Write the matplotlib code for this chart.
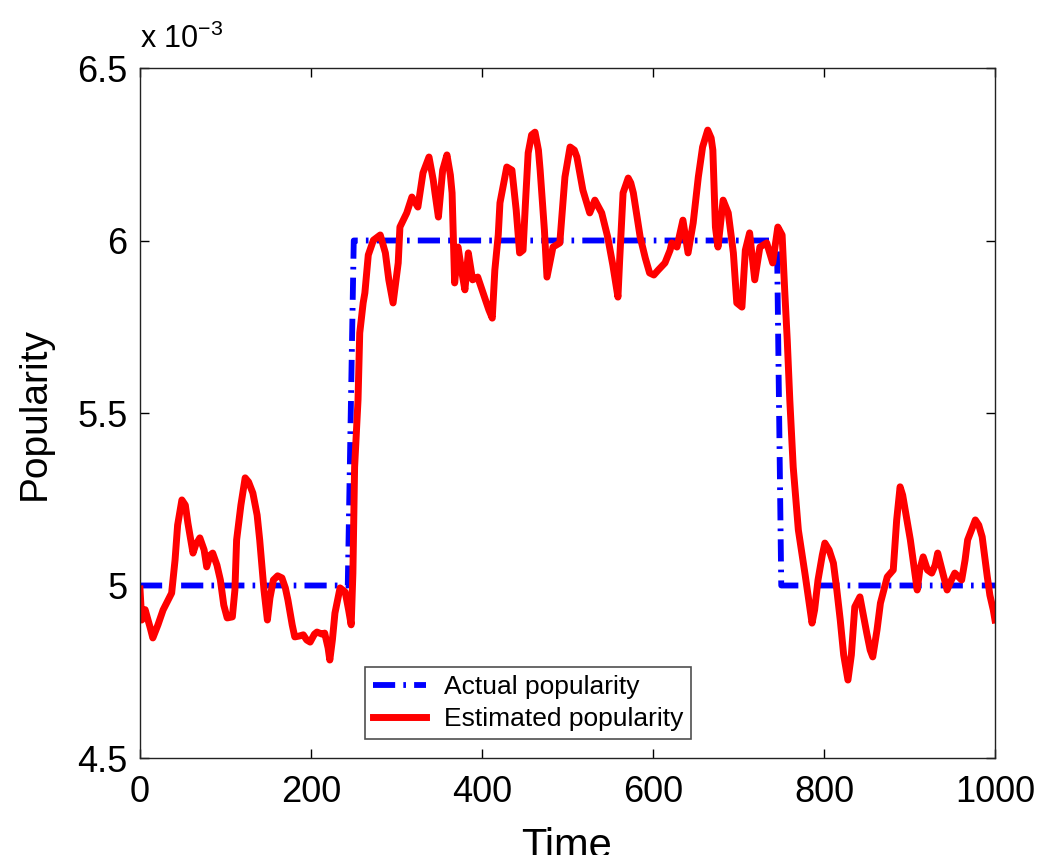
import matplotlib
matplotlib.use("Agg")
import matplotlib.pyplot as plt
import numpy as np

# Values are in units of 1e-3 (axis shows "x 10^-3")
actual_time = [0, 243, 250, 745, 750, 1000]
actual_pop = [5.0, 5.0, 6.0, 6.0, 5.0, 5.0]

est_time = [0, 2, 6, 12, 15, 21, 27, 33, 37, 41, 44, 49, 53, 56, 62, 65, 70, 75, 78, 82, 85, 90, 94, 98,
            102, 108, 111, 113, 118, 123, 127, 132, 137, 140, 145, 149, 152, 156, 161, 166, 170, 173,
            178, 181, 187, 191, 195, 199, 204, 207, 213, 216, 220, 222, 225, 228, 234, 240, 244, 247,
            249, 250, 251, 255, 257, 261, 263, 267, 273, 281, 287, 291, 296, 302, 304, 312, 318, 325,
            331, 338, 343, 345, 349, 354, 359, 363, 365, 368, 372, 377, 380, 384, 389, 395, 400, 404,
            408, 412, 415, 419, 421, 429, 435, 440, 444, 448, 451, 454, 458, 462, 466, 468, 473, 476,
            483, 491, 497, 503, 508, 511, 518, 526, 532, 540, 547, 553, 559, 561, 565, 571, 574, 577,
            581, 585, 591, 596, 601, 606, 614, 620, 622, 628, 635, 641, 647, 653, 658, 664, 668, 670,
            673, 676, 682, 688, 694, 698, 704, 708, 713, 719, 725, 733, 740, 746, 751, 754, 757, 760,
            764, 770, 778, 786, 789, 793, 798, 801, 806, 811, 815, 819, 823, 828, 832, 836, 842, 846,
            850, 854, 857, 862, 866, 874, 881, 885, 889, 892, 895, 901, 905, 909, 912, 916, 921, 926,
            930, 933, 938, 944, 949, 953, 961, 965, 968, 977, 981, 985, 991, 994, 998, 1000]
est_pop = [4.99, 4.90, 4.93, 4.877, 4.848, 4.886, 4.929, 4.958, 4.978, 5.074, 5.175, 5.248, 5.233,
           5.181, 5.094, 5.117, 5.138, 5.103, 5.054, 5.088, 5.094, 5.059, 5.016, 4.943, 4.906, 4.909,
           4.987, 5.132, 5.233, 5.312, 5.300, 5.268, 5.204, 5.132, 4.987, 4.900, 4.964, 5.016, 5.028,
           5.022, 4.993, 4.958, 4.886, 4.851, 4.854, 4.857, 4.842, 4.836, 4.859, 4.865, 4.859, 4.862,
           4.819, 4.784, 4.842, 4.920, 4.993, 4.981, 4.929, 4.886, 5.036, 5.190, 5.343, 5.538, 5.732,
           5.819, 5.848, 5.958, 6.001, 6.016, 5.964, 5.886, 5.819, 5.935, 6.039, 6.080, 6.126, 6.097,
           6.196, 6.242, 6.175, 6.138, 6.068, 6.204, 6.248, 6.190, 6.138, 5.877, 5.981, 5.900, 5.857,
           5.964, 5.886, 5.894, 5.857, 5.828, 5.799, 5.775, 5.914, 6.016, 6.109, 6.213, 6.204, 6.088,
           5.964, 5.972, 6.117, 6.254, 6.306, 6.314, 6.262, 6.204, 6.030, 5.894, 5.981, 5.993, 6.184,
           6.271, 6.262, 6.242, 6.146, 6.080, 6.117, 6.080, 6.010, 5.929, 5.836, 5.943, 6.138, 6.181,
           6.167, 6.138, 6.074, 6.010, 5.949, 5.906, 5.900, 5.914, 5.935, 5.972, 5.993, 5.981, 6.059,
           5.964, 6.051, 6.184, 6.271, 6.320, 6.297, 6.262, 6.039, 5.981, 6.117, 6.080, 5.964, 5.819,
           5.807, 5.972, 6.022, 5.886, 5.981, 5.993, 5.935, 6.039, 6.016, 5.857, 5.712, 5.538, 5.343,
           5.161, 5.030, 4.891, 4.929, 5.016, 5.088, 5.123, 5.103, 5.065, 4.987, 4.900, 4.799, 4.726,
           4.799, 4.938, 4.967, 4.914, 4.862, 4.813, 4.793, 4.871, 4.949, 5.025, 5.045, 5.190, 5.286,
           5.262, 5.219, 5.132, 5.059, 4.987, 5.045, 5.083, 5.045, 5.036, 5.059, 5.094, 5.045, 4.987,
           5.016, 5.036, 5.016, 5.074, 5.132, 5.190, 5.175, 5.141, 5.025, 4.972, 4.929, 4.900]

x_ticks = [0, 200, 400, 600, 800, 1000]
x_ticklabels = ["0", "200", "400", "600", "800", "1000"]
y_ticks = [4.5, 5.0, 5.5, 6.0, 6.5]
y_ticklabels = ["4.5", "5", "5.5", "6", "6.5"]

plt.rcParams['font.family'] = ['Liberation Sans', 'DejaVu Sans']

W, H = 1041, 855
fig = plt.figure(figsize=(W / 100, H / 100), dpi=100)
ax = fig.add_axes([140 / W, 1 - 758 / H, (995 - 140) / W, (758 - 68) / H])

ax.plot(actual_time, actual_pop, color='#0000ff', lw=4.2,
        linestyle=(0, (3.8, 1.4, 0.45, 1.4)), label='Actual popularity', solid_capstyle='butt')
ax.plot(est_time, est_pop, color='#ff0000', lw=5.0, label='Estimated popularity',
        solid_joinstyle='round')

ax.set_xlim(0, 1000)
ax.set_ylim(4.5, 6.5)
ax.set_xticks(x_ticks)
ax.set_xticklabels(x_ticklabels)
ax.set_yticks(y_ticks)
ax.set_yticklabels(y_ticklabels)

for s in ax.spines.values():
    s.set_linewidth(1.0)
    s.set_color('#222222')
ax.tick_params(direction='in', length=6.5, width=1.0, top=True, right=True,
               labelsize=26, colors='black')
ax.tick_params(axis='x', pad=12)
ax.tick_params(axis='y', pad=9)

fig.text(140 / W, 1 - 48 / H, r"x 10$^{\mathregular{-3}}$", fontsize=22, ha='left', va='baseline')
fig.text(35 / W, 1 - 414 / H, "Popularity", fontsize=28, rotation=90, ha='center', va='center')
fig.text(567 / W, 1 - 858 / H, "Time", fontsize=30, ha='center', va='baseline')

leg = ax.legend(loc='upper left', bbox_to_anchor=(365 / W, 1 - 667 / H), bbox_transform=fig.transFigure,
                borderaxespad=0, fontsize=19, frameon=True, fancybox=False, handlelength=2.0,
                handletextpad=0.7, labelspacing=0.32, borderpad=0.3)
leg.get_frame().set_edgecolor('#222222')
leg.get_frame().set_linewidth(1.2)

fig.savefig("out.png", dpi=100)
